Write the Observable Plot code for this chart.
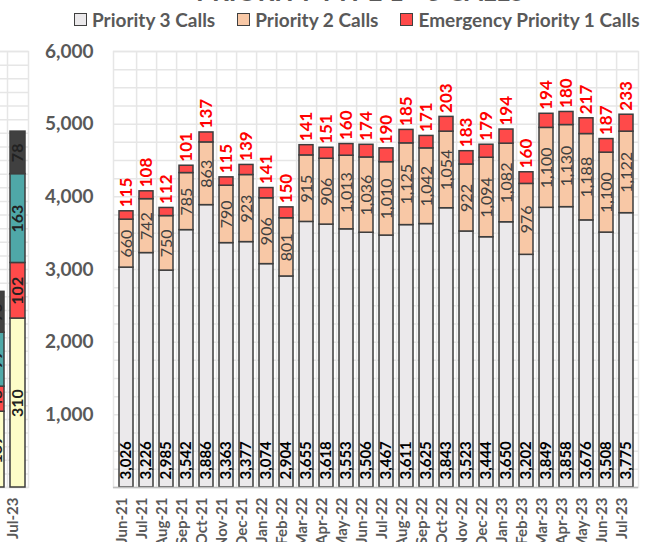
<!DOCTYPE html>
<html>
<head>
<meta charset="utf-8">
<script src="https://cdn.jsdelivr.net/npm/d3@7"></script>
<script src="https://cdn.jsdelivr.net/npm/@observablehq/plot@0.6"></script>
<style>
  body { margin: 0; background: #fff; }
  #wrap { position: relative; width: 645px; height: 542px; overflow: hidden; font-family: Lato, "Open Sans", sans-serif; background:#fff; }
  #wrap svg { position: absolute; top: 0; overflow: visible; }
  #title { position: absolute; top: -25px; left: 150px; width: 420px; text-align: center; font-size: 26px; font-weight: bold; color: #595959; white-space: nowrap; }
  #legend { position: absolute; top: 8px; left: 74px; display: flex; gap: 22px; font-size: 19px; font-weight: bold; color: #595959; white-space: nowrap; z-index: 2; }
  #legend .item { display: flex; align-items: center; gap: 5px; }
  #legend .sw { width: 11px; height: 11px; border: 1.5px solid #404040; display: inline-block; }
</style>
</head>
<body>
<div id="wrap">
  <div id="title">PRIORITY TYPE 1 - 3 CALLS</div>
  <div id="legend"></div>
</div>
<script>
// ---- Data (main chart) ----
const months = ["Jun-21","Jul-21","Aug-21","Sep-21","Oct-21","Nov-21","Dec-21","Jan-22","Feb-22","Mar-22","Apr-22","May-22","Jun-22","Jul-22","Aug-22","Sep-22","Oct-22","Nov-22","Dec-22","Jan-23","Feb-23","Mar-23","Apr-23","May-23","Jun-23","Jul-23"];
const priority3 = [3026,3226,2985,3542,3886,3363,3377,3074,2904,3655,3618,3553,3506,3467,3611,3625,3843,3523,3444,3650,3202,3849,3858,3676,3508,3775];
const priority2 = [660,742,750,785,863,790,923,906,801,915,906,1013,1036,1010,1125,1042,1054,922,1094,1082,976,1100,1130,1188,1100,1122];
const priority1 = [115,108,112,101,137,115,139,141,150,141,151,160,174,190,185,171,203,183,179,194,160,194,180,217,187,233];
const seriesNames = ["Priority 3 Calls","Priority 2 Calls","Emergency Priority 1 Calls"];
const seriesColors = ["#ebe9eb","#f8c8a6","#ff4a4a"];
const yTicks = [1000,2000,3000,4000,5000,6000];

// ---- Data (neighbouring chart, only its last bars are visible) ----
const leftMonths = ["Jun-23","Jul-23"];
const leftSeriesNames = ["Series A","Series B","Series C","Series D"];
const leftA = [139,310];
const leftB = [46,102];
const leftC = [99,163];
const leftD = [75,78];
const leftColors = ["#fdfdc8","#ff4a4a","#4fa8a8","#404040"];

const fmt = d3.format(",");
const FONT = "Lato, 'Open Sans', sans-serif";
const GRID = "#e6e6e6";

// ---- Legend ----
const legend = document.getElementById("legend");
seriesNames.forEach((n, i) => {
  const it = document.createElement("div"); it.className = "item";
  const sw = document.createElement("span"); sw.className = "sw"; sw.style.background = seriesColors[i];
  const tx = document.createElement("span"); tx.textContent = n;
  it.appendChild(sw); it.appendChild(tx); legend.appendChild(it);
});

// ---- Main chart ----
const rows = months.flatMap((m, i) => [
  {month: m, series: seriesNames[0], value: priority3[i]},
  {month: m, series: seriesNames[1], value: priority2[i]},
  {month: m, series: seriesNames[2], value: priority1[i]}
]);
const idx = months.map((m, i) => ({month: m, p3: priority3[i], p2: priority2[i], p1: priority1[i]}));

const W = 645, H = 542, ML = 113, MR = 7, MT = 51, MB = 55;
const step = (W - ML - MR) / months.length;

const main = Plot.plot({
  width: W, height: H,
  marginLeft: ML, marginRight: MR, marginTop: MT, marginBottom: MB,
  style: {fontFamily: FONT, background: "transparent", overflow: "visible"},
  x: {domain: months, paddingInner: 0.3, paddingOuter: 0.15, axis: null},
  y: {domain: [0, 6000], axis: null},
  color: {domain: seriesNames, range: seriesColors},
  marks: [
    Plot.ruleY(d3.range(0, 6001, 250), {stroke: GRID, strokeWidth: 1.5}),
    Plot.ruleX(months.slice(0, -1), {x: d => d, stroke: GRID, strokeWidth: 1.5, dx: step / 2}),
    Plot.frame({stroke: GRID, strokeWidth: 1.5}),
    Plot.barY(rows, {x: "month", y: "value", fill: "series", stroke: "#3d3d3d", strokeWidth: 1.5}),
    Plot.ruleY([0], {stroke: "#bfbfbf", strokeWidth: 1.5}),
    // Priority 3 labels (inside base)
    Plot.text(idx, {x: "month", y: () => 0, text: d => fmt(d.p3), rotate: -90, textAnchor: "start", dy: -8,
      fontSize: 15, fontWeight: "bold", fill: "#000"}),
    // Priority 2 labels (centered)
    Plot.text(idx, {x: "month", y: d => d.p3 + d.p2 / 2, text: d => fmt(d.p2), rotate: -90, textAnchor: "middle",
      fontSize: 16, fill: "#404040"}),
    // Priority 1 labels (above bar)
    Plot.text(idx, {x: "month", y: d => d.p3 + d.p2 + d.p1, text: d => fmt(d.p1), rotate: -90, textAnchor: "start", dy: -4,
      fontSize: 17, fontWeight: "bold", fill: "#ff0000"}),
    // Y tick labels
    Plot.text(yTicks, {y: d => d, frameAnchor: "left", textAnchor: "end", dx: -20, text: d => fmt(d),
      fontSize: 19, fontWeight: "bold", fill: "#595959"}),
    // X tick labels
    Plot.text(months, {x: d => d, frameAnchor: "bottom", rotate: -90, textAnchor: "end", dy: 10, text: d => d,
      fontSize: 15, fontWeight: "bold", fill: "#595959"})
  ]
});
main.style.left = "0px";
document.getElementById("wrap").appendChild(main);

// ---- Neighbouring chart (cropped) ----
const leftRows = leftMonths.flatMap((m, i) => [
  {month: m, series: leftSeriesNames[0], value: leftA[i]},
  {month: m, series: leftSeriesNames[1], value: leftB[i]},
  {month: m, series: leftSeriesNames[2], value: leftC[i]},
  {month: m, series: leftSeriesNames[3], value: leftD[i]}
]);
const leftLabels = d3.stack().keys(leftSeriesNames)(leftMonths.map((m, i) => ({
  month: m, "Series A": leftA[i], "Series B": leftB[i], "Series C": leftC[i], "Series D": leftD[i]
}))).flatMap(layer => layer.map(seg => ({month: seg.data.month, mid: (seg[0] + seg[1]) / 2, v: seg[1] - seg[0]})));

const LW = 42;
const left = Plot.plot({
  width: LW, height: H,
  marginLeft: 0, marginRight: 0, marginTop: MT, marginBottom: MB,
  style: {fontFamily: FONT, background: "transparent", overflow: "visible"},
  x: {domain: leftMonths, paddingInner: 0.28, paddingOuter: 0.14, axis: null},
  y: {domain: [0, 800], axis: null},
  color: {domain: leftSeriesNames, range: leftColors},
  marks: [
    Plot.ruleY(d3.range(0, 801, 25), {stroke: GRID, strokeWidth: 1.5}),
    Plot.ruleX(leftMonths.slice(0, -1), {x: d => d, stroke: GRID, strokeWidth: 1.5, dx: LW / leftMonths.length / 2}),
    Plot.frame({stroke: GRID, strokeWidth: 1.5}),
    Plot.barY(leftRows, {x: "month", y: "value", fill: "series", stroke: "#3d3d3d", strokeWidth: 1.5}),
    Plot.text(leftLabels, {x: "month", y: "mid", text: d => fmt(d.v), rotate: -90, textAnchor: "middle",
      fontSize: 16, fontWeight: "bold", fill: "#222"}),
    Plot.text(leftMonths, {x: d => d, frameAnchor: "bottom", rotate: -90, textAnchor: "end", dy: 10, text: d => d,
      fontSize: 15, fontWeight: "bold", fill: "#595959"})
  ]
});
left.style.left = "-14px";
document.getElementById("wrap").appendChild(left);
</script>
</body>
</html>
